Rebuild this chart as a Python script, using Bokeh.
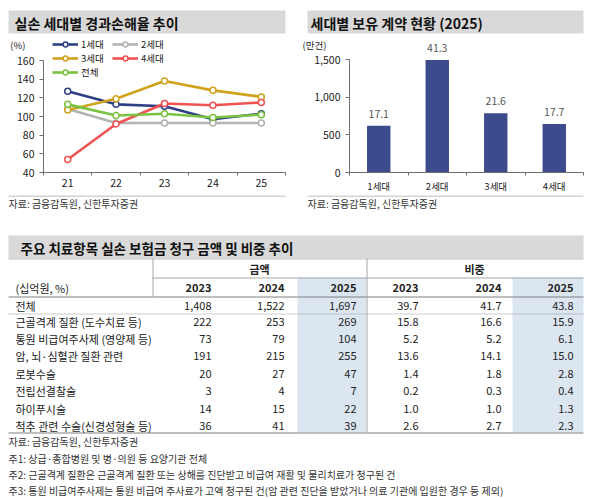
from bokeh.plotting import figure
from bokeh.layouts import column, row
from bokeh.models import (FactorRange, Range1d, FixedTicker, NumeralTickFormatter,
                          Legend, LegendItem, LinearAxis)
from bokeh.core.properties import value
from bokeh.embed import file_html
from bokeh.resources import INLINE

FONT = "Noto Sans CJK KR"

# ---------------- data: line chart ----------------
years = ["21", "22", "23", "24", "25"]
gen1 = [127, 113, 111, 97, 103]
gen2 = [108, 93, 93, 93, 93]
gen3 = [107, 119, 138, 128, 121]
gen4 = [54, 92, 114, 112, 115]
total = [113, 101, 103, 99, 102]
line_names = ["1세대", "2세대", "3세대", "4세대", "전체"]
line_colors = ["#2f3f84", "#b3b3b3", "#d1a21c", "#f05252", "#7cc242"]
line_ticks = [40, 60, 80, 100, 120, 140, 160]
line_unit = "(%)"

# ---------------- data: bar chart ----------------
bar_cats = ["1세대", "2세대", "3세대", "4세대"]
contracts = [620, 1495, 785, 645]
shares = [17.1, 41.3, 21.6, 17.7]
bar_ticks = [0, 500, 1000, 1500]
bar_unit = "(만건)"

# ---------------- data: table ----------------
row_labels = ["전체", "근골격계 질환 (도수치료 등)", "통원 비급여주사제 (영양제 등)",
              "암, 뇌·심혈관 질환 관련", "로봇수술", "전립선결찰술", "하이푸시술",
              "척추 관련 수술(신경성형술 등)"]
amt_2023 = [1408, 222, 73, 191, 20, 3, 14, 36]
amt_2024 = [1522, 253, 79, 215, 27, 4, 15, 41]
amt_2025 = [1697, 269, 104, 255, 47, 7, 22, 39]
pct_2023 = [39.7, 15.8, 5.2, 13.6, 1.4, 0.2, 1.0, 2.6]
pct_2024 = [41.7, 16.6, 5.2, 14.1, 1.8, 0.3, 1.0, 2.7]
pct_2025 = [43.8, 15.9, 6.1, 15.0, 2.8, 0.4, 1.3, 2.3]
col_years = ["2023", "2024", "2025", "2023", "2024", "2025"]
group_labels = ["금액", "비중"]
footnotes = ["자료: 금융감독원, 신한투자증권",
             "주1: 상급·종합병원 및 병·의원 등 요양기관 전체",
             "주2: 근골격계 질환은 근골격계 질환 또는 상해를 진단받고 비급여 재활 및 물리치료가 청구된 건",
             "주3: 통원 비급여주사제는 통원 비급여 주사료가 고액 청구된 건(암 관련 진단을 받았거나 의료 기관에 입원한 경우 등 제외)"]
source_text = "자료: 금융감독원, 신한투자증권"
chart_titles = ["실손 세대별 경과손해율 추이", "세대별 보유 계약 현황 (2025)"]
title_table = "주요 치료항목 실손 보험금 청구 금액 및 비중 추이"

BAND = "#d9d9d9"
TXT = "#222222"
AXC = "#6e6e6e"

# chart frames: page y 36 (top) .. 172 (bottom); figures span page y 36..195
FRAME_TOP, FRAME_BOTTOM, FIG_TOP, FIG_H = 36, 172, 36, 159
SRC_TOP = FIG_TOP + FIG_H
UNIT_Y = 42   # page y of the unit captions


def canvas(x0, x1, y0, y1):
    f = figure(width=int(x1 - x0), height=int(y1 - y0),
               x_range=Range1d(x0, x1), y_range=Range1d(y1, y0),
               x_axis_type=None, y_axis_type=None,
               output_backend="svg", toolbar_location=None, min_border=0)
    f.grid.visible = False
    f.outline_line_color = None
    return f


def chart(x_factors, y0, y1, left, right, cat_font):
    p = figure(width=295, height=FIG_H, x_range=FactorRange(*x_factors, range_padding=0),
               y_range=Range1d(y0, y1), output_backend="svg", toolbar_location=None,
               x_axis_location=None,
               min_border_left=left, min_border_right=right,
               min_border_top=FRAME_TOP - FIG_TOP,
               min_border_bottom=FIG_TOP + FIG_H - FRAME_BOTTOM)
    p.grid.visible = False
    p.outline_line_color = None
    n = len(x_factors)
    centers = [i + 0.5 for i in range(n)]
    # category labels at the centres, tick marks on the category boundaries
    xa = LinearAxis(ticker=FixedTicker(ticks=centers, minor_ticks=list(range(n + 1))),
                    major_label_overrides={c: f for c, f in zip(centers, x_factors)},
                    axis_line_color=AXC, major_tick_line_color=None,
                    major_tick_in=0, major_tick_out=0,
                    minor_tick_line_color=AXC, minor_tick_in=0, minor_tick_out=3,
                    major_label_standoff=3, major_label_text_font=FONT,
                    major_label_text_font_size=cat_font, major_label_text_color=TXT)
    p.add_layout(xa, "below")
    ya = p.yaxis[0]
    ya.axis_line_color = AXC
    ya.major_tick_line_color = AXC
    ya.major_tick_in = 0
    ya.major_tick_out = 4
    ya.minor_tick_line_color = None
    ya.minor_tick_out = 0
    ya.major_label_standoff = 5
    ya.major_label_text_font = FONT
    ya.major_label_text_font_size = "10.5px"
    ya.major_label_text_color = TXT
    return p


def unit_axis(p, text, at, standoff):
    # unit caption above the value axis, drawn as the single label of an outer left axis
    ua = LinearAxis(ticker=FixedTicker(ticks=[at]), major_label_overrides={at: text},
                    axis_line_color=None, major_tick_line_color=None,
                    major_tick_in=0, major_tick_out=0,
                    minor_tick_line_color=None, minor_tick_in=0, minor_tick_out=0,
                    major_label_standoff=standoff, major_label_text_font=FONT,
                    major_label_text_font_size="9.5px", major_label_text_color=TXT)
    p.add_layout(ua, "left")


# ---------------- title bands (both charts) ----------------
top = canvas(0, 590, 0, 36)
top.quad(left=[8, 307], right=[285, 583], top=[10, 10], bottom=[33, 33],
         fill_color=BAND, line_color=None)
top.text(x=[14, 310], y=[22, 22], text=chart_titles, text_font=value(FONT),
         text_font_style="bold", text_font_size="14px", text_baseline="middle",
         text_align="left", text_color="#111111")

# ---------------- line chart ----------------
ppu = (FRAME_BOTTOM - 60) / 120.0          # px per % point (160 sits at page y 60)
p1 = chart(years, 40, 40 + (FRAME_BOTTOM - FRAME_TOP) / ppu, 43, 10, "10.5px")
p1.yaxis[0].ticker = FixedTicker(ticks=line_ticks)
p1.yaxis[0].bounds = (40, 160)

series = [gen1, gen2, gen3, gen4, total]
renderers = []
for name, vals, col in zip(line_names, series, line_colors):
    rl = p1.line(years, vals, line_color=col, line_width=2.6)
    rs = p1.scatter(years, vals, marker="circle", size=6, fill_color="white",
                    line_color=col, line_width=1.5)
    renderers.append((name, rl, rs))

leg_pos = [(9, 121), (69, 121), (9, 107), (69, 107), (9, 93)]
for (name, rl, rs), loc in zip(renderers, leg_pos):
    lg = Legend(items=[LegendItem(label=name, renderers=[rl, rs])], location=loc,
                glyph_width=26, glyph_height=12, label_height=12, label_standoff=3,
                padding=0, margin=0, spacing=0, border_line_color=None,
                background_fill_alpha=0, label_text_font=FONT,
                label_text_font_size="9.5px", label_text_color=TXT)
    p1.add_layout(lg)
unit_axis(p1, line_unit, round(40 + (FRAME_BOTTOM - UNIT_Y) / ppu, 1), -11)

# ---------------- bar chart ----------------
bpu = (FRAME_BOTTOM - 59) / 1500.0
p2 = chart(bar_cats, 0, (FRAME_BOTTOM - FRAME_TOP) / bpu, 54, 7, "9.5px")
p2.yaxis[0].ticker = FixedTicker(ticks=bar_ticks)
p2.yaxis[0].bounds = (0, 1500)
p2.yaxis[0].formatter = NumeralTickFormatter(format="0,0")
p2.vbar(x=bar_cats, top=contracts, width=0.4, fill_color="#3c4b8c", line_color=None)
p2.text(x=bar_cats, y=contracts, text=[f"{v:.1f}" for v in shares], y_offset=-12,
        text_align="center", text_baseline="middle", text_font=value(FONT),
        text_font_size="10.5px", text_color="#555555")
unit_axis(p2, bar_unit, round((FRAME_BOTTOM - UNIT_Y) / bpu), -15)

# ---------------- sources under charts ----------------
src = canvas(0, 590, SRC_TOP, 212)
src.segment(x0=[8, 307], y0=[SRC_TOP + 0.5] * 2, x1=[285, 583], y1=[SRC_TOP + 0.5] * 2,
            line_color="#a6a6a6", line_width=1)
src.text(x=[8, 307], y=[203, 203], text=[source_text, source_text], text_font=value(FONT),
         text_font_size="10px", text_baseline="middle", text_align="left", text_color="#333333")

# ---------------- table ----------------
tb = canvas(0, 590, 212, 498)
tb.quad(left=8, right=583, top=235, bottom=258, fill_color=BAND, line_color=None)
tb.text(x=[20], y=[247], text=[title_table], text_font=value(FONT), text_font_style="bold",
        text_font_size="13.5px", text_baseline="middle", text_color="#111111")
tb.quad(left=[297, 512], right=[366, 583], top=[277, 277], bottom=[432, 432],
        fill_color="#dce6f1", line_color=None)
tb.segment(x0=[8], y0=[258.5], x1=[583], y1=[258.5], line_color="#bfbfbf", line_width=1)
tb.segment(x0=[152], y0=[277.5], x1=[583], y1=[277.5], line_color="#a6a6a6", line_width=1)
tb.segment(x0=[8, 8], y0=[296.5, 432.5], x1=[583, 583], y1=[296.5, 432.5],
           line_color="#808080", line_width=1)
tb.segment(x0=[8], y0=[313.5], x1=[583], y1=[313.5], line_color="#9a9a9a", line_width=1,
           line_dash="1 1")
tb.segment(x0=[152.5, 366.5], y0=[258, 258], x1=[152.5, 366.5], y1=[296, 432],
           line_color="#a6a6a6", line_width=1)

tb.text(x=[259, 474], y=[268, 268], text=group_labels, text_align="center",
        text_baseline="middle", text_font=value(FONT), text_font_style="bold",
        text_font_size="11px", text_color=TXT)
col_right = [211, 284, 356, 418, 501, 573]
tb.text(x=col_right, y=[287] * 6, text=col_years, text_align="right", text_baseline="middle",
        text_font=value(FONT), text_font_style="bold", text_font_size="11px", text_color=TXT)
tb.text(x=[15], y=[287], text=["(십억원, %)"], text_baseline="middle",
        text_font=value(FONT), text_font_size="11px", text_color=TXT)

row_y = [305] + [321 + 17.4 * i for i in range(len(row_labels) - 1)]
tb.text(x=[15] * len(row_labels), y=row_y, text=row_labels, text_baseline="middle",
        text_font=value(FONT), text_font_size="11px", text_color=TXT)
cols = [[f"{v:,}" for v in amt_2023], [f"{v:,}" for v in amt_2024], [f"{v:,}" for v in amt_2025],
        [f"{v:.1f}" for v in pct_2023], [f"{v:.1f}" for v in pct_2024], [f"{v:.1f}" for v in pct_2025]]
for cx, vals in zip(col_right, cols):
    tb.text(x=[cx] * len(vals), y=row_y, text=vals, text_align="right", text_baseline="middle",
            text_font=value(FONT), text_font_size="11px", text_color=TXT)

foot_y = [441, 458, 474, 490]
tb.text(x=[8] * len(footnotes), y=foot_y, text=footnotes, text_baseline="middle",
        text_font=value(FONT), text_font_size="10px", text_color="#333333")

layout = column(top, row(p1, p2), src, tb)

with open("out.html", "w") as fh:
    fh.write(file_html(layout, INLINE))
